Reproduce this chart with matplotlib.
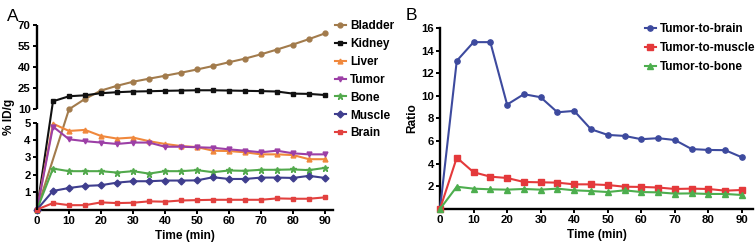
import numpy as np
import matplotlib
matplotlib.use("Agg")
import matplotlib.pyplot as plt
from matplotlib.lines import Line2D

plt.rcParams['font.family'] = ['Liberation Sans', 'DejaVu Sans']
plt.rcParams['font.weight'] = 'bold'

# ---------------- data ----------------
times = [0, 5, 10, 15, 20, 25, 30, 35, 40, 45, 50, 55, 60, 65, 70, 75, 80, 85, 90]

bladder = [0, None, 9.8, 17.0, 23.0, 26.4, 29.3, 31.5, 33.6, 35.8, 38.1, 40.6, 43.3,
           45.9, 49.0, 52.4, 56.0, 59.9, 64.0]
kidney = [0, 15.3, 18.9, 19.6, 21.1, 21.8, 22.3, 22.5, 22.8, 23.0, 23.2, 23.2, 23.0,
          22.8, 22.6, 22.3, 20.8, 20.6, 19.8]
liver = [0, 4.95, 4.53, 4.59, 4.24, 4.09, 4.15, 3.94, 3.78, 3.66, 3.60, 3.39, 3.37,
         3.30, 3.18, 3.18, 3.14, 2.90, 2.90]
tumor = [0, 4.78, 4.05, 3.94, 3.86, 3.78, 3.86, 3.86, 3.62, 3.62, 3.59, 3.56, 3.47,
         3.39, 3.30, 3.39, 3.24, 3.18, 3.18]
bone = [0, 2.36, 2.21, 2.21, 2.21, 2.13, 2.21, 2.07, 2.21, 2.21, 2.27, 2.15, 2.25,
        2.23, 2.29, 2.29, 2.31, 2.27, 2.40]
muscle = [0, 1.07, 1.24, 1.36, 1.40, 1.55, 1.63, 1.63, 1.67, 1.67, 1.68, 1.86, 1.76,
          1.76, 1.84, 1.84, 1.82, 1.94, 1.82]
brain = [0, 0.37, 0.25, 0.25, 0.41, 0.37, 0.39, 0.47, 0.45, 0.52, 0.54, 0.56, 0.56,
         0.56, 0.56, 0.64, 0.62, 0.62, 0.70]

tumor_to_brain = [0, 13.1, 14.75, 14.75, 9.23, 10.15, 9.88, 8.55, 8.67, 7.05, 6.55,
                  6.46, 6.17, 6.26, 6.10, 5.30, 5.22, 5.20, 4.57]
tumor_to_muscle = [0, 4.54, 3.25, 2.86, 2.74, 2.39, 2.36, 2.33, 2.18, 2.18, 2.12,
                   1.97, 1.95, 1.90, 1.77, 1.80, 1.77, 1.62, 1.68]
tumor_to_bone = [0, 1.97, 1.80, 1.74, 1.71, 1.77, 1.71, 1.80, 1.65, 1.59, 1.50,
                 1.65, 1.50, 1.47, 1.36, 1.38, 1.33, 1.33, 1.24]

a_names = ["Bladder", "Kidney", "Liver", "Tumor", "Bone", "Muscle", "Brain"]
a_series = [bladder, kidney, liver, tumor, bone, muscle, brain]
a_colors = ["#A27B4C", "#111111", "#F0883C", "#9C3FA6", "#52A94C", "#3F3E8E", "#E2413F"]
a_markers = ["o", "s", "^", "v", "*", "D", "s"]

b_names = ["Tumor-to-brain", "Tumor-to-muscle", "Tumor-to-bone"]
b_series = [tumor_to_brain, tumor_to_muscle, tumor_to_bone]
b_colors = ["#3D4A9E", "#E4393B", "#4DAE4E"]
b_markers = ["o", "s", "^"]

a_yticks = [1, 2, 3, 4, 5, 10, 25, 40, 55, 70]
x_ticks = [0, 10, 20, 30, 40, 50, 60, 70, 80, 90]
b_yticks = [2, 4, 6, 8, 10, 12, 14, 16]

# ---------------- figure ----------------
W, H = 755, 243
fig = plt.figure(figsize=(W / 100, H / 100), dpi=100)

# broken-axis piecewise scale for panel A (lower 0-5, gap, upper 10-70)
data_bp = np.array([-100.0, 0.0, 5.0, 10.0, 70.0, 1000.0])
px_bp = np.array([-1720.0, 0.0, 86.0, 100.0, 183.0, 183.0 + 930 * 1.383])


def fwd(v):
    return np.interp(v, data_bp, px_bp)


def inv(p):
    return np.interp(p, px_bp, data_bp)


spine_lw = 1.7
tick_kw = dict(direction='out', length=3, width=1.4, labelsize=8.2, pad=1.5)
lab_size = 8.6

axA = fig.add_axes([37 / W, (H - 209.5) / H, 296 / W, 184.5 / H])
axA.set_yscale('function', functions=(fwd, inv))
axA.set_ylim(0, 70)
axA.set_xlim(0, 92.5)

for name, ser, col, mk in zip(a_names, a_series, a_colors, a_markers):
    t = [tt for tt, v in zip(times, ser) if v is not None]
    v = [vv for vv in ser if vv is not None]
    ms = 5 if mk == '*' else 3.5
    axA.plot(t, v, color=col, marker=mk, ms=ms, lw=1.5, label=name, clip_on=False,
             zorder=3)

for s in ['top', 'right', 'left']:
    axA.spines[s].set_visible(False)
axA.spines['bottom'].set_linewidth(spine_lw)
ytr = axA.get_yaxis_transform()
axA.plot([0, 0], [0, 5], color='black', lw=spine_lw, transform=ytr, clip_on=False,
         solid_capstyle='butt', zorder=4)
axA.plot([0, 0], [10, 70], color='black', lw=spine_lw, transform=ytr, clip_on=False,
         solid_capstyle='butt', zorder=4)
axA.set_yticks(a_yticks)
axA.set_yticklabels([str(v) for v in a_yticks])
axA.set_xticks(x_ticks)
axA.tick_params(**tick_kw)
axA.yaxis.set_minor_locator(matplotlib.ticker.NullLocator())
axA.set_ylabel("% ID/g", fontsize=lab_size, fontweight='bold', labelpad=2)
axA.set_xlabel("Time (min)", fontsize=lab_size, fontweight='bold', labelpad=3)
for lab in axA.get_xticklabels() + axA.get_yticklabels():
    lab.set_fontweight('bold')

handlesA = [Line2D([], [], color=c, marker=m, ms=(5 if m == '*' else 3.5), lw=1.5)
            for c, m in zip(a_colors, a_markers)]
fig.legend(handlesA, a_names, loc='upper left', bbox_to_anchor=(335 / W, 1 - 20 / H),
           frameon=False, handlelength=0.9, handletextpad=0.4, labelspacing=0.5,
           prop=dict(size=8.5, weight='bold'), borderaxespad=0, borderpad=0)

fig.text(7 / W, 1 - 21 / H, "A", fontsize=12.5, fontweight='normal')

# ---------------- panel B ----------------
axB = fig.add_axes([440 / W, (H - 209) / H, 313 / W, 181 / H])
axB.set_xlim(0, 93.3)
axB.set_ylim(0, 16)
for name, ser, col, mk in zip(b_names, b_series, b_colors, b_markers):
    axB.plot(times, ser, color=col, marker=mk, ms=3.8, lw=1.5, label=name,
             clip_on=False, zorder=3)
for s in ['top', 'right']:
    axB.spines[s].set_visible(False)
for s in ['left', 'bottom']:
    axB.spines[s].set_linewidth(spine_lw)
axB.set_yticks(b_yticks)
axB.set_xticks(x_ticks)
axB.tick_params(**tick_kw)
axB.set_ylabel("Ratio", fontsize=lab_size, fontweight='bold', labelpad=2)
axB.set_xlabel("Time (min)", fontsize=lab_size, fontweight='bold', labelpad=3)
for lab in axB.get_xticklabels() + axB.get_yticklabels():
    lab.set_fontweight('bold')

handlesB = [Line2D([], [], color=c, marker=m, ms=3.8, lw=1.5)
            for c, m in zip(b_colors, b_markers)]
fig.legend(handlesB, b_names, loc='upper left', bbox_to_anchor=(645 / W, 1 - 23 / H),
           frameon=False, handlelength=0.9, handletextpad=0.4, labelspacing=0.6,
           prop=dict(size=8.5, weight='bold'), borderaxespad=0, borderpad=0)

fig.text(406 / W, 1 - 20 / H, "B", fontsize=12.5, fontweight='normal')

fig.savefig("out.png", dpi=100)
